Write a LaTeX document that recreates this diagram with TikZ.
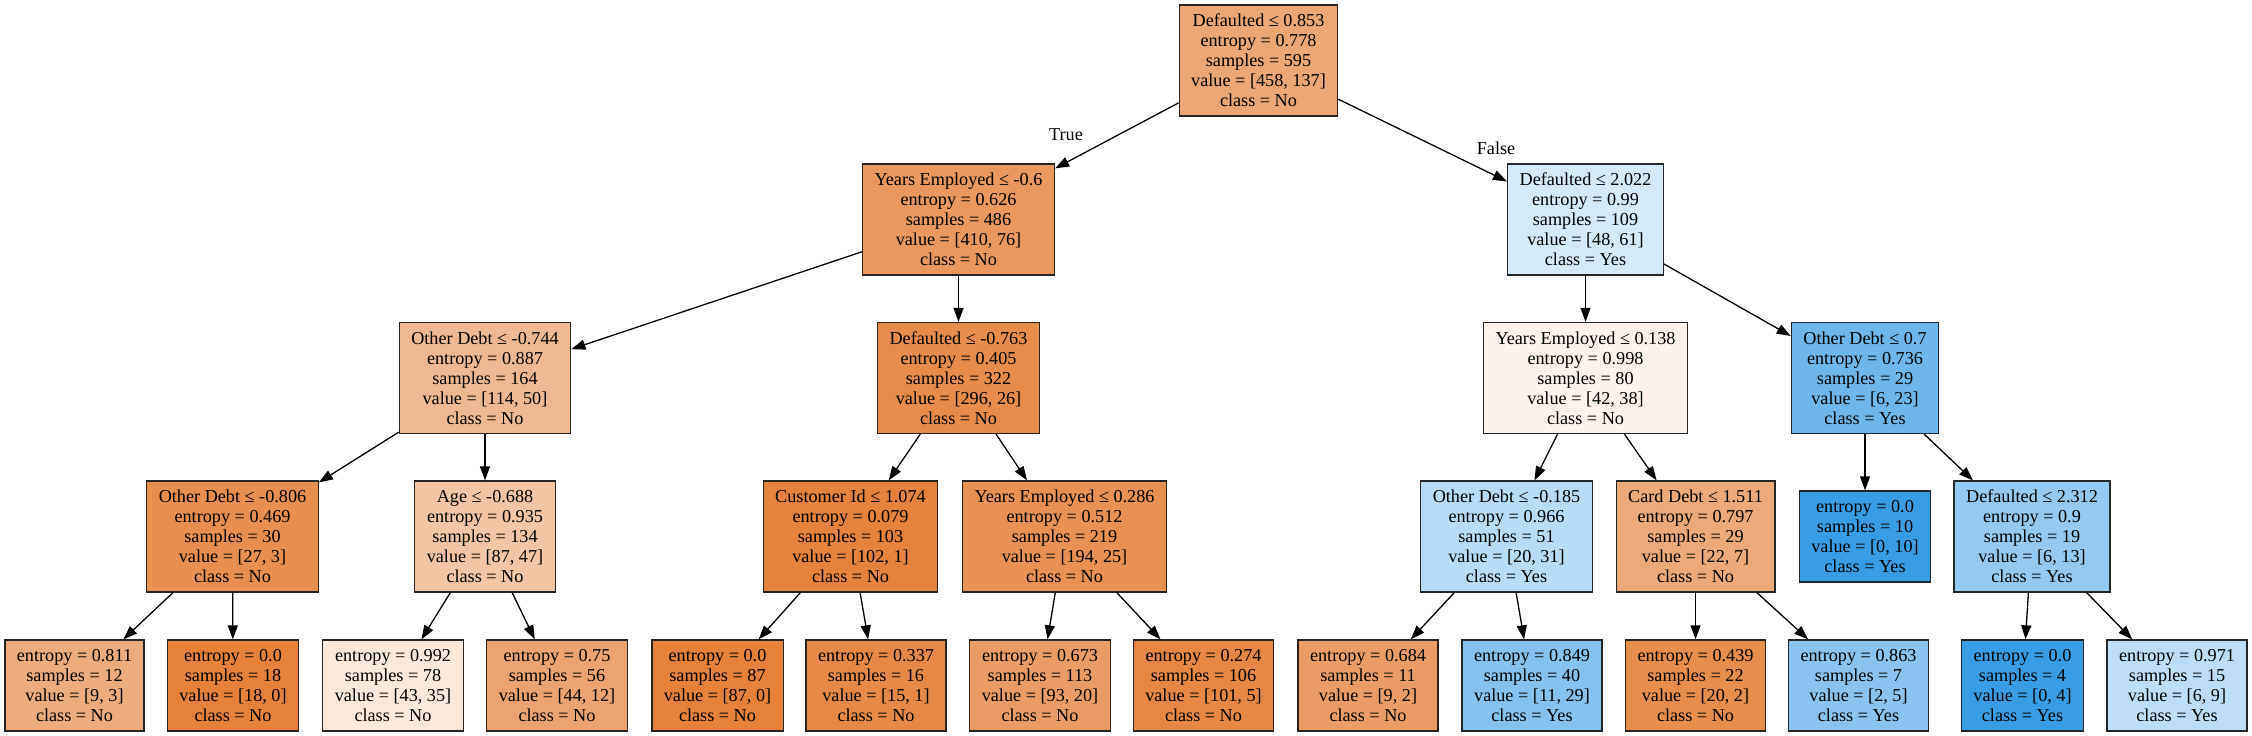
\documentclass[tikz,border=0pt]{standalone}
\usepackage{fontspec}
\setmainfont{Liberation Serif}
\usetikzlibrary{arrows.meta}
\definecolor{cNo}{RGB}{229,129,57}
\definecolor{cYes}{RGB}{57,157,229}
\tikzset{
  box/.style={draw=black!85, line width=1.3pt, align=center, inner xsep=12pt, inner ysep=0pt,
    minimum height=111pt, font=\fontsize{18.2}{20}\selectfont},
  leaf/.style={box, minimum height=91pt},
  no/.style={fill=cNo!#1!white},
  yes/.style={fill=cYes!#1!white},
  edge/.style={draw=black, line width=1.3pt, -{Triangle[length=14pt,width=10pt]}},
  lbl/.style={font=\fontsize{18.2}{20}\selectfont, inner sep=0pt}
}
\begin{document}
\begin{tikzpicture}[x=1pt,y=-1pt]
\fill[white] (0,0) rectangle (2252,736);
\useasboundingbox (0,0) rectangle (2252,736);
% level 0
\node[box,no=70.1] (n0) at (1258.5,60.5) {Defaulted ≤ 0.853\\entropy = 0.778\\samples = 595\\value = [458, 137]\\class = No};
% level 1
\node[box,no=81.5] (n1) at (958.5,219.5) {Years Employed ≤ -0.6\\entropy = 0.626\\samples = 486\\value = [410, 76]\\class = No};
\node[box,yes=21.3] (n2) at (1585.5,219.5) {Defaulted ≤ 2.022\\entropy = 0.99\\samples = 109\\value = [48, 61]\\class = Yes};
% level 2
\node[box,no=56.1] (n3) at (485,378) {Other Debt ≤ -0.744\\entropy = 0.887\\samples = 164\\value = [114, 50]\\class = No};
\node[box,no=91.2] (n4) at (958.5,378) {Defaulted ≤ -0.763\\entropy = 0.405\\samples = 322\\value = [296, 26]\\class = No};
\node[box,no=9.5] (n5) at (1585.5,378) {Years Employed ≤ 0.138\\entropy = 0.998\\samples = 80\\value = [42, 38]\\class = No};
\node[box,yes=73.9] (n6) at (1865,378) {Other Debt ≤ 0.7\\entropy = 0.736\\samples = 29\\value = [6, 23]\\class = Yes};
% level 3
\node[box,no=88.9] (n7) at (232.5,536.5) {Other Debt ≤ -0.806\\entropy = 0.469\\samples = 30\\value = [27, 3]\\class = No};
\node[box,no=46.0] (n8) at (485,536.5) {Age ≤ -0.688\\entropy = 0.935\\samples = 134\\value = [87, 47]\\class = No};
\node[box,no=99.0] (n9) at (850.5,536.5) {Customer Id ≤ 1.074\\entropy = 0.079\\samples = 103\\value = [102, 1]\\class = No};
\node[box,no=87.1] (n10) at (1064.5,536.5) {Years Employed ≤ 0.286\\entropy = 0.512\\samples = 219\\value = [194, 25]\\class = No};
\node[box,yes=35.5] (n11) at (1506.5,536.5) {Other Debt ≤ -0.185\\entropy = 0.966\\samples = 51\\value = [20, 31]\\class = Yes};
\node[box,no=68.2] (n12) at (1695.5,536.5) {Card Debt ≤ 1.511\\entropy = 0.797\\samples = 29\\value = [22, 7]\\class = No};
\node[leaf,yes=100] (n13) at (1865,536.5) {entropy = 0.0\\samples = 10\\value = [0, 10]\\class = Yes};
\node[box,yes=53.8] (n14) at (2032,536.5) {Defaulted ≤ 2.312\\entropy = 0.9\\samples = 19\\value = [6, 13]\\class = Yes};
% level 4
\node[leaf,no=66.7] (l1) at (74.5,685.5) {entropy = 0.811\\samples = 12\\value = [9, 3]\\class = No};
\node[leaf,no=100] (l2) at (233,685.5) {entropy = 0.0\\samples = 18\\value = [18, 0]\\class = No};
\node[leaf,no=18.6] (l3) at (393,685.5) {entropy = 0.992\\samples = 78\\value = [43, 35]\\class = No};
\node[leaf,no=72.7] (l4) at (557,685.5) {entropy = 0.75\\samples = 56\\value = [44, 12]\\class = No};
\node[leaf,no=100] (l5) at (717.5,685.5) {entropy = 0.0\\samples = 87\\value = [87, 0]\\class = No};
\node[leaf,no=93.3] (l6) at (876,685.5) {entropy = 0.337\\samples = 16\\value = [15, 1]\\class = No};
\node[leaf,no=78.5] (l7) at (1040,685.5) {entropy = 0.673\\samples = 113\\value = [93, 20]\\class = No};
\node[leaf,no=95.0] (l8) at (1203.5,685.5) {entropy = 0.274\\samples = 106\\value = [101, 5]\\class = No};
\node[leaf,no=77.8] (l9) at (1368,685.5) {entropy = 0.684\\samples = 11\\value = [9, 2]\\class = No};
\node[leaf,yes=62.1] (l10) at (1532,685.5) {entropy = 0.849\\samples = 40\\value = [11, 29]\\class = Yes};
\node[leaf,no=90.0] (l11) at (1695.5,685.5) {entropy = 0.439\\samples = 22\\value = [20, 2]\\class = No};
\node[leaf,yes=60.0] (l12) at (1858.5,685.5) {entropy = 0.863\\samples = 7\\value = [2, 5]\\class = Yes};
\node[leaf,yes=100] (l13) at (2022.5,685.5) {entropy = 0.0\\samples = 4\\value = [0, 4]\\class = Yes};
\node[leaf,yes=33.3] (l14) at (2177,685.5) {entropy = 0.971\\samples = 15\\value = [6, 9]\\class = Yes};
% edge labels
\node[lbl] (tT) at (1066,135) {True};
\node[lbl] (tF) at (1496,148.5) {False};
% edges
\draw[edge] (n0) -- (n1);
\draw[edge] (n0) -- (n2);
\draw[edge] (n1) -- (n3);
\draw[edge] (n1) -- (n4);
\draw[edge] (n2) -- (n5);
\draw[edge] (n2) -- (n6);
\draw[edge] (n3) -- (n7);
\draw[edge] (n3) -- (n8);
\draw[edge] (n4) -- (n9);
\draw[edge] (n4) -- (n10);
\draw[edge] (n5) -- (n11);
\draw[edge] (n5) -- (n12);
\draw[edge] (n6) -- (n13);
\draw[edge] (n6) -- (n14);
\draw[edge] (n7) -- (l1);
\draw[edge] (n7) -- (l2);
\draw[edge] (n8) -- (l3);
\draw[edge] (n8) -- (l4);
\draw[edge] (n9) -- (l5);
\draw[edge] (n9) -- (l6);
\draw[edge] (n10) -- (l7);
\draw[edge] (n10) -- (l8);
\draw[edge] (n11) -- (l9);
\draw[edge] (n11) -- (l10);
\draw[edge] (n12) -- (l11);
\draw[edge] (n12) -- (l12);
\draw[edge] (n14) -- (l13);
\draw[edge] (n14) -- (l14);
\end{tikzpicture}
\end{document}
